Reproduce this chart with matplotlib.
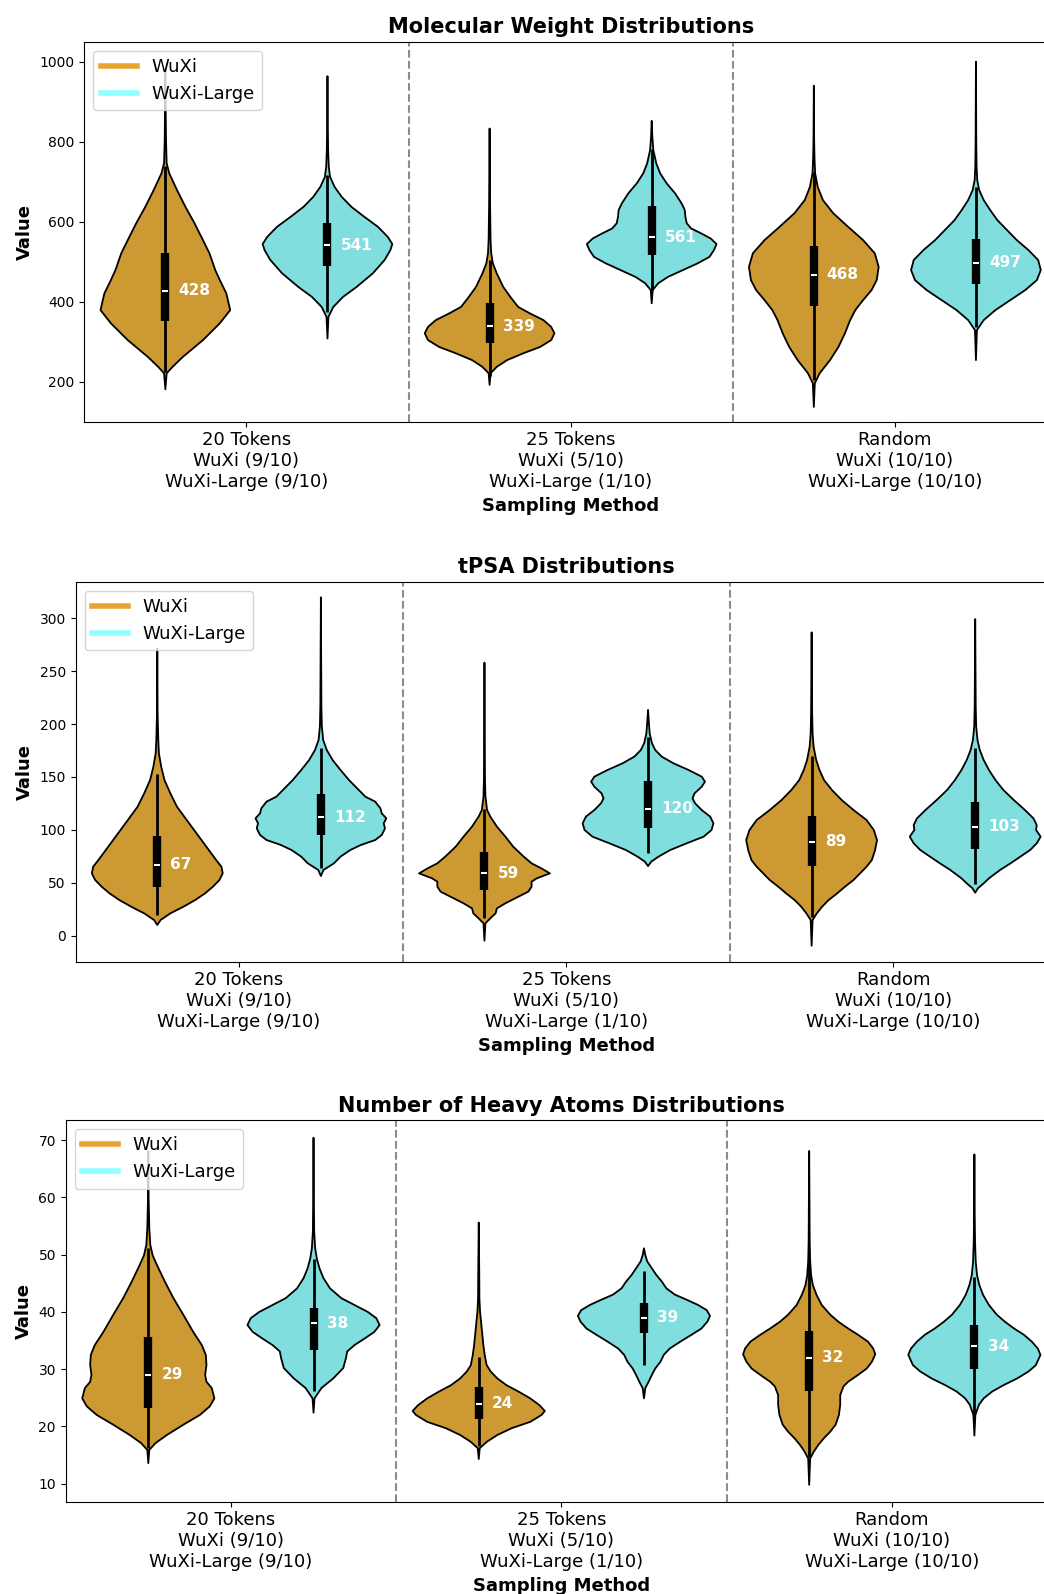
import numpy as np
import matplotlib
matplotlib.use("Agg")
import matplotlib.pyplot as plt
from matplotlib.lines import Line2D

# ---------------- data ----------------
tick_labels = ["20 Tokens\nWuXi (9/10)\nWuXi-Large (9/10)",
               "25 Tokens\nWuXi (5/10)\nWuXi-Large (1/10)",
               "Random\nWuXi (10/10)\nWuXi-Large (10/10)"]
series_names = ["WuXi", "WuXi-Large"]
titles = ["Molecular Weight Distributions", "tPSA Distributions",
          "Number of Heavy Atoms Distributions"]

mw_yticks = [200, 400, 600, 800, 1000]
tpsa_yticks = [0, 50, 100, 150, 200, 250, 300]
ha_yticks = [10, 20, 30, 40, 50, 60, 70]

# violin outlines: value grid (bottom -> top) and relative density (percent of max)
mw_20_wuxi_y = [181, 221, 237, 262, 304, 346, 379, 421, 454, 479, 521, 554, 596, 637, 679, 721, 746, 804, 879, 979]
mw_20_wuxi_d = [0, 2, 11, 27, 58, 84, 100, 94, 84, 77, 68, 58, 45, 31, 18, 6, 2, 1, 0.5, 0]
mw_20_large_y = [308, 362, 387, 412, 437, 471, 504, 529, 544, 562, 587, 612, 637, 662, 687, 712, 737, 779, 846, 964]
mw_20_large_d = [0, 1.5, 9, 24, 45, 70, 88, 97, 100, 93, 78, 57, 37, 22, 11, 4, 2, 1, 0.5, 0]
mw_25_wuxi_y = [192, 221, 237, 254, 271, 287, 304, 321, 337, 354, 371, 387, 412, 437, 471, 496, 521, 554, 637, 833]
mw_25_wuxi_d = [0, 1.5, 11, 27, 52, 78, 95, 100, 95, 83, 62, 44, 32, 21, 11, 5, 2.5, 1.5, 0.8, 0]
mw_25_large_y = [396, 429, 446, 462, 479, 496, 512, 529, 544, 558, 571, 583, 596, 612, 629, 646, 671, 696, 721, 746, 779, 812, 852]
mw_25_large_d = [0, 1.5, 10, 25, 48, 71, 89, 96, 100, 91, 76, 61, 54, 52, 51, 46, 36, 23, 13, 7, 2.5, 1, 0]
mw_rand_wuxi_y = [137, 196, 221, 254, 287, 321, 354, 379, 404, 429, 454, 487, 521, 554, 587, 621, 654, 687, 721, 762, 804, 940]
mw_rand_wuxi_d = [0, 1.5, 9, 25, 38, 48, 56, 64, 76, 89, 97, 100, 94, 76, 53, 30, 14, 6, 2, 1, 0.5, 0]
mw_rand_large_y = [254, 329, 354, 379, 404, 429, 454, 479, 504, 529, 554, 579, 604, 629, 654, 679, 704, 737, 804, 1000]
mw_rand_large_d = [0, 1.5, 12, 30, 53, 76, 94, 100, 96, 81, 63, 48, 33, 22, 12, 5, 2, 1, 0.5, 0]

tpsa_20_wuxi_y = [10.1, 14.8, 21.1, 27.4, 33.7, 40.0, 46.3, 52.6, 58.9, 65.2, 71.5, 84.1, 96.7, 109.3, 122.0, 134.5, 147.1, 159.7, 172.3, 185.0, 210.2, 271.6]
tpsa_20_wuxi_d = [0, 5, 20, 40, 58, 73, 85, 95, 100, 98, 90, 75, 60, 45, 30, 20, 11, 6, 2.5, 1.5, 0.5, 0]
tpsa_20_large_y = [56.4, 62.1, 68.4, 74.7, 81.0, 85.7, 90.4, 95.2, 101.4, 106.2, 110.9, 115.6, 120.4, 126.7, 131.4, 137.7, 147.1, 156.6, 166.0, 175.5, 185.0, 197.6, 216.5, 319.8]
tpsa_20_large_d = [0, 4, 20, 30, 45, 61, 83, 93, 98, 96, 100, 93, 91, 83, 68, 58, 43, 30, 18, 9, 3.5, 1.5, 0.8, 0]
tpsa_25_wuxi_y = [-4.7, 11.7, 16.4, 21.1, 25.8, 30.6, 36.9, 41.6, 46.3, 51.0, 54.2, 58.9, 63.6, 68.4, 74.7, 84.1, 93.6, 103.1, 112.5, 118.8, 131.4, 147.1, 258.1]
tpsa_25_wuxi_d = [0, 1.5, 9, 17, 19, 32, 52, 67, 72, 72, 80, 100, 87, 72, 60, 44, 32, 19, 9, 4, 1.5, 0.8, 0]
tpsa_25_large_y = [65.8, 70.0, 74.7, 81.0, 87.3, 93.6, 99.9, 106.2, 112.5, 118.8, 125.1, 129.8, 134.5, 140.8, 145.6, 150.3, 156.6, 162.9, 169.2, 175.5, 181.8, 191.3, 203.9, 213.3]
tpsa_25_large_d = [0, 5, 16, 34, 59, 85, 97, 100, 95, 82, 72, 68, 71, 82, 87, 82, 62, 39, 21, 11, 6, 2.5, 1, 0]
tpsa_rand_wuxi_y = [-9.5, 14.8, 21.1, 27.4, 33.7, 40.0, 46.3, 52.6, 58.9, 65.2, 71.5, 81.0, 90.4, 99.9, 109.3, 118.8, 128.2, 137.7, 147.1, 156.6, 166.0, 178.6, 191.3, 210.2, 286.7]
tpsa_rand_wuxi_d = [0, 1.5, 8, 16, 26, 39, 51, 64, 74, 84, 92, 97, 100, 95, 84, 64, 46, 31, 19, 12, 7, 3, 1.5, 0.8, 0]
tpsa_rand_large_y = [40.6, 44.7, 49.5, 54.2, 62.1, 68.4, 74.7, 81.0, 87.3, 93.6, 99.9, 104.6, 110.9, 118.8, 128.2, 137.7, 147.1, 156.6, 166.0, 175.5, 185.0, 197.6, 216.5, 299.3]
tpsa_rand_large_d = [0, 4, 13, 21, 38, 54, 69, 84, 94, 100, 93, 94, 89, 76, 59, 43, 31, 21, 13, 7, 3.5, 1.5, 0.8, 0]

ha_20_wuxi_y = [13.6, 15.9, 17.1, 18.5, 20.3, 22.0, 23.5, 24.9, 26.7, 27.8, 29.0, 30.7, 32.5, 34.2, 36.5, 39.5, 42.4, 45.3, 48.2, 49.9, 51.7, 54.6, 59.8, 68.1]
ha_20_wuxi_d = [0, 1.5, 11, 28, 53, 78, 93, 100, 96, 88, 86, 88, 87, 81, 68, 53, 38, 25, 13, 6.5, 3, 1.5, 0.5, 0]
ha_20_large_y = [22.4, 24.9, 26.7, 28.4, 30.2, 31.9, 33.1, 34.2, 35.4, 36.5, 37.7, 38.9, 40.0, 41.2, 42.4, 44.1, 45.9, 47.6, 49.3, 51.1, 54.0, 59.8, 70.4]
ha_20_large_d = [0, 1.5, 12, 30, 45, 49, 51, 62, 78, 92, 100, 95, 82, 62, 42, 25, 15, 9, 5, 2.5, 1, 0.5, 0]
ha_25_wuxi_y = [14.3, 16.2, 17.3, 18.5, 19.7, 20.8, 22.0, 22.7, 23.7, 24.9, 26.1, 27.2, 28.4, 29.6, 30.7, 32.5, 34.2, 36.5, 38.3, 40.0, 42.4, 46.4, 55.6]
ha_25_wuxi_d = [0, 1.5, 12, 28, 50, 78, 95, 100, 92, 78, 60, 42, 28, 18, 12, 9, 7, 5, 3.5, 2, 1, 0.8, 0]
ha_25_large_y = [24.9, 26.7, 27.8, 29.0, 30.1, 31.3, 32.5, 33.6, 34.8, 36.0, 37.1, 38.3, 39.3, 40.3, 41.2, 42.1, 43.0, 44.1, 45.3, 46.4, 47.6, 48.8, 49.9, 51.1]
ha_25_large_d = [0, 2, 7, 12, 17, 25, 30, 39, 55, 72, 87, 96, 100, 95, 82, 65, 47, 34, 27, 19, 12, 5, 2, 0]
ha_rand_wuxi_y = [9.8, 14.4, 15.6, 16.8, 17.9, 19.1, 20.3, 22.0, 23.8, 25.5, 27.0, 27.8, 29.0, 30.1, 31.3, 32.6, 33.6, 34.8, 36.0, 37.1, 38.3, 39.5, 41.2, 43.0, 44.7, 46.4, 48.8, 52.3, 68.1]
ha_rand_wuxi_d = [0, 1.5, 7, 14, 22, 32, 40, 45, 47, 47, 52, 59, 74, 87, 95, 100, 97, 89, 74, 59, 44, 32, 19, 11, 5.5, 3, 1.5, 0.8, 0]
ha_rand_large_y = [18.4, 22.0, 23.8, 24.9, 26.1, 27.2, 28.4, 29.6, 30.7, 32.5, 33.6, 34.8, 36.0, 37.1, 38.3, 39.5, 41.2, 43.0, 44.7, 46.4, 48.8, 52.3, 56.9, 67.5]
ha_rand_large_d = [0, 1.5, 7, 14, 27, 44, 65, 82, 93, 100, 96, 87, 75, 60, 46, 34, 22, 13, 7.5, 4, 2, 1, 0.5, 0]

# box statistics per category (20 Tokens, 25 Tokens, Random)
mw_wuxi_median = [428, 339, 468]
mw_wuxi_q1 = [352, 297, 390]
mw_wuxi_q3 = [523, 396, 539]
mw_wuxi_lo = [225, 215, 205]
mw_wuxi_hi = [740, 504, 725]
mw_large_median = [541, 561, 497]
mw_large_q1 = [489, 518, 444]
mw_large_q3 = [597, 640, 556]
mw_large_lo = [375, 429, 337]
mw_large_hi = [716, 783, 687]

tpsa_wuxi_median = [67, 59, 89]
tpsa_wuxi_q1 = [46.3, 43.2, 66.2]
tpsa_wuxi_q3 = [94.0, 79.4, 113.4]
tpsa_wuxi_lo = [20.0, 16.4, 18.0]
tpsa_wuxi_hi = [153.0, 119.4, 169.8]
tpsa_large_median = [112, 120, 103]
tpsa_large_q1 = [94.8, 102.1, 82.2]
tpsa_large_q3 = [133.9, 146.2, 126.0]
tpsa_large_lo = [63.6, 78.4, 48.8]
tpsa_large_hi = [177.7, 188.1, 177.1]

ha_wuxi_median = [29, 24, 32]
ha_wuxi_q1 = [23.3, 21.3, 26.2]
ha_wuxi_q3 = [35.7, 26.8, 36.7]
ha_wuxi_lo = [16.2, 16.5, 14.7]
ha_wuxi_hi = [51.1, 32.2, 49.3]
ha_large_median = [38, 39, 34]
ha_large_q1 = [33.3, 36.3, 30.1]
ha_large_q3 = [40.6, 41.6, 37.7]
ha_large_lo = [26.1, 30.8, 21.7]
ha_large_hi = [49.2, 47.2, 46.1]

# ---------------- styling ----------------
FILL = {"WuXi": "#CC9933", "WuXi-Large": "#80DEDE"}
LEG = {"WuXi": "#E8A430", "WuXi-Large": "#8FFFFF"}
OFFSET = {"WuXi": -0.25, "WuXi-Large": 0.25}
HALF_W = 0.2

panels = [
    dict(title=titles[0], yticks=mw_yticks, ylim=(100, 1050),
         rect=[84.3, 421.7, 380.0],
         prof={"WuXi": [(mw_20_wuxi_y, mw_20_wuxi_d), (mw_25_wuxi_y, mw_25_wuxi_d), (mw_rand_wuxi_y, mw_rand_wuxi_d)],
               "WuXi-Large": [(mw_20_large_y, mw_20_large_d), (mw_25_large_y, mw_25_large_d), (mw_rand_large_y, mw_rand_large_d)]},
         box={"WuXi": (mw_wuxi_q1, mw_wuxi_median, mw_wuxi_q3, mw_wuxi_lo, mw_wuxi_hi),
              "WuXi-Large": (mw_large_q1, mw_large_median, mw_large_q3, mw_large_lo, mw_large_hi)}),
    dict(title=titles[1], yticks=tpsa_yticks, ylim=(-24.6, 334.6),
         rect=[75.5, 961.7, 380.0],
         prof={"WuXi": [(tpsa_20_wuxi_y, tpsa_20_wuxi_d), (tpsa_25_wuxi_y, tpsa_25_wuxi_d), (tpsa_rand_wuxi_y, tpsa_rand_wuxi_d)],
               "WuXi-Large": [(tpsa_20_large_y, tpsa_20_large_d), (tpsa_25_large_y, tpsa_25_large_d), (tpsa_rand_large_y, tpsa_rand_large_d)]},
         box={"WuXi": (tpsa_wuxi_q1, tpsa_wuxi_median, tpsa_wuxi_q3, tpsa_wuxi_lo, tpsa_wuxi_hi),
              "WuXi-Large": (tpsa_large_q1, tpsa_large_median, tpsa_large_q3, tpsa_large_lo, tpsa_large_hi)}),
    dict(title=titles[2], yticks=ha_yticks, ylim=(6.86, 73.5),
         rect=[65.7, 1501.7, 381.7],
         prof={"WuXi": [(ha_20_wuxi_y, ha_20_wuxi_d), (ha_25_wuxi_y, ha_25_wuxi_d), (ha_rand_wuxi_y, ha_rand_wuxi_d)],
               "WuXi-Large": [(ha_20_large_y, ha_20_large_d), (ha_25_large_y, ha_25_large_d), (ha_rand_large_y, ha_rand_large_d)]},
         box={"WuXi": (ha_wuxi_q1, ha_wuxi_median, ha_wuxi_q3, ha_wuxi_lo, ha_wuxi_hi),
              "WuXi-Large": (ha_large_q1, ha_large_median, ha_large_q3, ha_large_lo, ha_large_hi)}),
]

W, H = 1044, 1594
RIGHT = 1057.0
fig = plt.figure(figsize=(W / 100, H / 100), dpi=100)

for p in panels:
    left, bottom, height = p["rect"]
    ax = fig.add_axes([left / W, 1 - bottom / H, (RIGHT - left) / W, height / H])
    for name in series_names:
        q1s, meds, q3s, los, his = p["box"][name]
        for i, (ys, ds) in enumerate(p["prof"][name]):
            x = i + OFFSET[name]
            ys = np.asarray(ys, float)
            hw = np.asarray(ds, float) / 100.0 * HALF_W
            px = np.concatenate([x + hw, (x - hw)[::-1]])
            py = np.concatenate([ys, ys[::-1]])
            ax.fill(px, py, facecolor=FILL[name], edgecolor="black",
                    linewidth=1.3, zorder=2, joinstyle="round")
            ax.vlines(x, los[i], his[i], color="black", linewidth=2.0, zorder=3)
            ax.vlines(x, q1s[i], q3s[i], color="black", linewidth=6.0, zorder=4)
            ax.plot([x], [meds[i]], marker="_", color="white", markersize=5,
                    markeredgewidth=1.5, zorder=5)
            ax.text(x + 0.04, meds[i], f"{meds[i]:.0f}", color="white",
                    fontsize=11, fontweight="bold", ha="left", va="center", zorder=6)
    for xv in (0.5, 1.5):
        ax.axvline(xv, color="gray", linestyle="--", linewidth=1.5, alpha=0.9, zorder=1)
    ax.set_xlim(-0.5, 2.5)
    ax.set_ylim(*p["ylim"])
    ax.set_xticks(range(len(tick_labels)))
    ax.set_xticklabels(tick_labels, fontsize=13)
    ax.set_yticks(p["yticks"])
    ax.tick_params(axis="y", labelsize=10)
    ax.set_title(p["title"], fontsize=15, fontweight="bold")
    ax.set_xlabel("Sampling Method", fontsize=13, fontweight="bold")
    ax.set_ylabel("Value", fontsize=13, fontweight="bold")
    handles = [Line2D([0], [0], color=LEG[n], linewidth=4) for n in series_names]
    ax.legend(handles, series_names, loc="upper left", fontsize=13)

fig.savefig("out.png", dpi=100)
